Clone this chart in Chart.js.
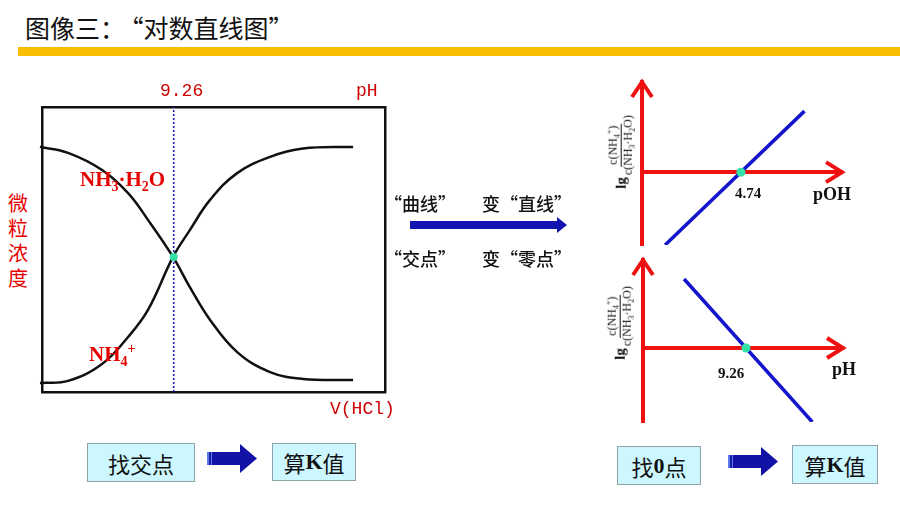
<!doctype html>
<html lang="zh-CN">

<head>
	<meta charset="utf-8">
	<title>对数直线图</title>
	<script src="https://cdn.jsdelivr.net/npm/chart.js@4.4.0/dist/chart.umd.min.js"></script>
	<style>
		body { margin: 0; background: #fff; }
		#page { position: relative; width: 900px; height: 506px; overflow: hidden; font-family: "Noto Sans CJK SC", sans-serif; }
		.abs { position: absolute; line-height: 1; white-space: nowrap; }
		canvas { position: absolute; }
		.mono { font-family: "Liberation Mono", monospace; font-size: 18px; color: #cc0000; }
		.red { color: #e60000; font-family: "Liberation Serif", serif; font-weight: bold; font-size: 21px; }
		.red sub, .red sup { font-size: 14px; line-height: 0; }
		.bold { font-family: "Liberation Serif", serif; font-weight: bold; color: #111; }
		.frac { position: absolute; transform: translate(-50%, -50%) rotate(-90deg); display: flex; align-items: center;
			font-family: "Liberation Serif", serif; font-size: 12px; white-space: nowrap; line-height: 1.15; color: #111; }
		.frac .lg { font-weight: bold; font-size: 15px; margin-right: 2px; }
		.frac .f { display: inline-flex; flex-direction: column; align-items: center; }
		.frac .num { border-bottom: 1px solid #111; padding: 0 2px; }
		.frac sub, .frac sup { font-size: 8px; line-height: 0; }
		.mid { font-size: 18px; font-weight: 500; color: #111; }
		.box { position: absolute; background: #ccf7ff; border: 1px solid #8fa3a8; display: flex; align-items: center;
			justify-content: center; font-size: 22px; color: #111; }
		.box b { font-family: "Liberation Serif", serif; }
		.arrow { position: absolute; background: linear-gradient(to right, #5a7be8 0 2px, #1a1aa8 2px 4px, #5a7be8 4px 5px, #1212a6 5px); }
	</style>
</head>

<body>
	<div id="page">
		<div class="abs" style="left:25px;top:15px;font-size:25px;color:#111">图像三：<span style="margin-left:6px">“对数直线图”</span></div>
		<div class="abs" style="left:18px;top:47px;width:882px;height:9px;background:#f8bf00"></div>

		<canvas id="main-chart" width="370" height="310" style="left:30px;top:95px"></canvas>
		<div class="abs mono" style="left:160px;top:82px">9.26</div>
		<div class="abs mono" style="left:356px;top:82px">pH</div>
		<div class="abs mono" style="left:330px;top:400px">V(HCl)</div>
		<div class="abs" style="left:8px;top:190px;font-size:20px;line-height:25px;color:#e60000;white-space:normal;width:22px">微粒浓度</div>
		<div class="abs red" style="left:80px;top:169px">NH<sub>3</sub>·H<sub>2</sub>O</div>
		<div class="abs red" style="left:89px;top:344px">NH<sub>4</sub><sup>+</sup></div>

		<div class="abs mid" style="left:384px;top:194px">“曲线”</div>
		<div class="abs mid" style="left:482px;top:194px">变“直线”</div>
		<div class="arrow" style="left:410px;top:217px;width:157px;height:16px;background:#1414b0;clip-path:polygon(0 4px,147px 4px,147px 0,157px 8px,147px 16px,147px 12px,0 12px)"></div>
		<div class="abs mid" style="left:384px;top:249px">“交点”</div>
		<div class="abs mid" style="left:482px;top:249px">变“零点”</div>

		<canvas id="top-chart" width="230" height="190" style="left:630px;top:70px"></canvas>
		<div class="frac" style="left:621px;top:152px"><span class="lg">lg</span><span class="f"><span class="num">c(NH<sub>4</sub><sup>+</sup>)</span><span>c(NH<sub>3</sub>·H<sub>2</sub>O)</span></span></div>
		<div class="abs bold" style="left:735px;top:186px;font-size:15px">4.74</div>
		<div class="abs bold" style="left:813px;top:185px;font-size:18px">pOH</div>

		<canvas id="bottom-chart" width="230" height="190" style="left:630px;top:248px"></canvas>
		<div class="frac" style="left:620px;top:323px"><span class="lg">lg</span><span class="f"><span class="num">c(NH<sub>4</sub><sup>+</sup>)</span><span>c(NH<sub>3</sub>·H<sub>2</sub>O)</span></span></div>
		<div class="abs bold" style="left:718px;top:366px;font-size:15px">9.26</div>
		<div class="abs bold" style="left:832px;top:360px;font-size:18px">pH</div>

		<div class="box" style="left:87px;top:443px;width:106px;height:37px">找交点</div>
		<div class="arrow" style="left:207px;top:444px;width:50px;height:29px;clip-path:polygon(0 8px,33px 8px,33px 0,50px 14.5px,33px 29px,33px 21px,0 21px)"></div>
		<div class="box" style="left:272px;top:443px;width:82px;height:36px">算<b>K</b>值</div>

		<div class="box" style="left:617px;top:446px;width:82px;height:37px">找<b>0</b>点</div>
		<div class="arrow" style="left:728px;top:447px;width:50px;height:29px;clip-path:polygon(0 8px,33px 8px,33px 0,50px 14.5px,33px 29px,33px 21px,0 21px)"></div>
		<div class="box" style="left:792px;top:445px;width:84px;height:37px">算<b>K</b>值</div>
	</div>

	<script>
		// main chart: particle concentration vs V(HCl)
		const vHCl = [-0.06, 0.76, 1.75, 2.51, 3.09, 3.82, 4.31, 4.90, 5.69, 6.65, 7.61, 9.07];
		const nh3h2o = [0.860, 0.839, 0.779, 0.698, 0.604, 0.474, 0.368, 0.253, 0.140, 0.070, 0.046, 0.042];
		const nh4 = [0.032, 0.039, 0.098, 0.193, 0.288, 0.474, 0.568, 0.674, 0.768, 0.825, 0.854, 0.860];
		const crossV = 3.84;
		const crossC = 0.474;

		// right charts: lg c(NH4+)/c(NH3·H2O)
		const pOH = [2.64, 6.5];
		const lgVsPOH = [-2.1, 1.76];
		const pH = [7.3, 11.36];
		const lgVsPH = [1.96, -2.1];
		const pKb = 4.74;
		const pKa = 9.26;

		const RED = '#ee1111';
		const BLUE = '#1414cc';
		const DOT = '#35e0a5';

		function pts(xs, ys) {
			return xs.map((x, i) => ({ x: x, y: ys[i] }));
		}

		function frameAxis(axis, position, min, max) {
			return {
				type: 'linear', axis: axis, position: position, min: min, max: max,
				ticks: { display: false },
				grid: { display: false, drawTicks: false },
				border: { display: true, color: '#111', width: 2.5 }
			};
		}

		const common = {
			responsive: false,
			animation: false,
			events: [],
			plugins: { legend: { display: false }, tooltip: { enabled: false } }
		};

		new Chart(document.getElementById('main-chart'), {
			type: 'line',
			data: {
				datasets: [
					{ data: [{ x: crossV, y: crossC }], pointRadius: 4, pointBackgroundColor: DOT, pointBorderWidth: 0, showLine: false },
					{ data: pts(vHCl, nh3h2o), borderColor: '#111', borderWidth: 2.5, pointRadius: 0, tension: 0.4, clip: false },
					{ data: pts(vHCl, nh4), borderColor: '#111', borderWidth: 2.5, pointRadius: 0, tension: 0.4, clip: false },
					{ data: [{ x: crossV, y: 0 }, { x: crossV, y: 1 }], borderColor: '#1a1ab0', borderWidth: 1.6, borderDash: [2, 2], pointRadius: 0 }
				]
			},
			options: Object.assign({}, common, {
				layout: { padding: { left: 12, top: 12, right: 15, bottom: 13 } },
				scales: {
					x: frameAxis('x', 'bottom', 0, 10),
					xTop: frameAxis('x', 'top', 0, 10),
					y: frameAxis('y', 'left', 0, 1),
					yRight: frameAxis('y', 'right', 0, 1)
				}
			})
		});

		const arrowHeads = {
			id: 'arrowHeads',
			afterDraw(chart) {
				const { ctx, chartArea: a, scales: { y } } = chart;
				const y0 = y.getPixelForValue(0);
				ctx.save();
				ctx.strokeStyle = RED;
				ctx.lineWidth = 4;
				ctx.beginPath();
				ctx.moveTo(a.right - 16, y0 - 10);
				ctx.lineTo(a.right, y0);
				ctx.lineTo(a.right - 16, y0 + 10);
				ctx.stroke();
				ctx.beginPath();
				ctx.moveTo(a.left - 10, a.top + 15);
				ctx.lineTo(a.left, a.top);
				ctx.lineTo(a.left + 10, a.top + 15);
				ctx.stroke();
				ctx.restore();
			}
		};

		function redAxis(position, min, max) {
			return {
				type: 'linear', position: position, min: min, max: max,
				ticks: { display: false },
				grid: { display: false, drawTicks: false },
				border: { display: true, color: RED, width: 4 }
			};
		}

		function lgChart(id, xs, ys, zeroAt, xMin, xMax, yMin, yMax, pad) {
			return new Chart(document.getElementById(id), {
				type: 'line',
				data: {
					datasets: [
						{ data: [{ x: zeroAt, y: 0 }], pointRadius: 4.5, pointBackgroundColor: DOT, pointBorderWidth: 0, showLine: false },
						{ data: pts(xs, ys), borderColor: BLUE, borderWidth: 3.5, pointRadius: 0 }
					]
				},
				options: Object.assign({}, common, {
					layout: { padding: pad },
					scales: {
						x: redAxis({ y: 0 }, xMin, xMax),
						y: redAxis('left', yMin, yMax)
					}
				}),
				plugins: [arrowHeads]
			});
		}

		lgChart('top-chart', pOH, lgVsPOH, pKb, 2, 7.54, -2.1, 2.6, { left: 12, top: 12, right: 18, bottom: 15 });
		lgChart('bottom-chart', pH, lgVsPH, pKa, 6, 12.33, -2.1, 2.5, { left: 13, top: 12, right: 17, bottom: 16 });
	</script>
</body>
</html>
